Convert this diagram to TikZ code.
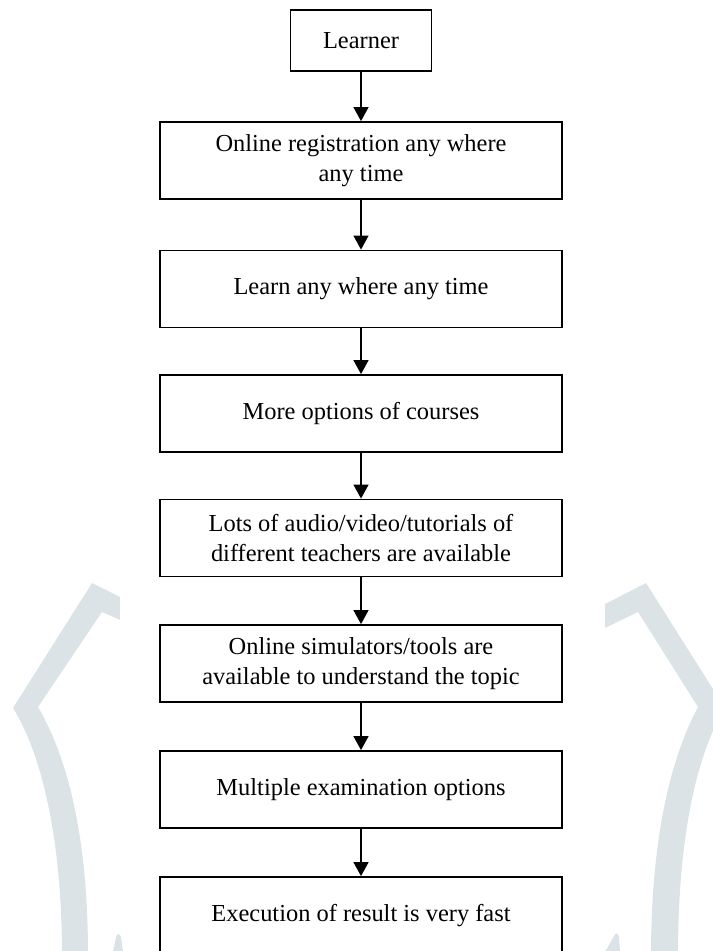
\documentclass[tikz,border=0pt]{standalone}
\usepackage{fontspec}
\setmainfont{Liberation Serif}
\usepackage{tikz}
\usetikzlibrary{arrows.meta}
\definecolor{wmgray}{RGB}{220,227,231}
\tikzset{box/.style = {rectangle, draw=black, line width=1pt, minimum width=8.04cm, minimum height=1.54cm, inner sep=0pt, align=center, font=\fontsize{13.9}{17}\selectfont},
         flow/.style = {line width=1pt, -{Triangle[length=8pt,width=8.5pt]}}}

\begin{document}
\begin{tikzpicture}
        \useasboundingbox (0,0) rectangle (14.26,19.02);

        \fill [wmgray] (3.00,6.78) -- (1.84,7.36) -- (0.26,4.86) .. controls (0.90,3.82) and (1.24,2.02) .. (1.24,-0.08)
              -- (1.76,-0.08) .. controls (1.76,2.02) and (1.44,3.72) .. (0.76,4.88) -- (2.04,6.78) -- (3.00,6.36) -- cycle;
        \fill [wmgray] (11.60,6.68) -- (12.92,7.36) -- (14.50,4.86) .. controls (13.86,3.82) and (13.56,2.02) .. (13.56,-0.08)
              -- (13.02,-0.08) .. controls (13.02,2.02) and (13.34,3.72) .. (13.96,4.88) -- (12.76,6.78) -- (11.60,6.22) -- cycle;
        \fill [white] (2.40,0) rectangle (12.10,19.02);
        \fill [wmgray] (2.26,-0.02) -- (2.32,0.28) .. controls (2.34,0.36) and (2.38,0.36) .. (2.42,0.28) -- (2.46,-0.02) -- cycle;
        \fill [wmgray] (12.10,-0.02) -- (12.28,0.30) .. controls (12.32,0.38) and (12.36,0.36) .. (12.38,0.28) -- (12.40,-0.02) -- cycle;

        \node [box, minimum width=2.82cm, minimum height=1.22cm] (1) at (7.22,18.21) {Learner};
        \node [box] (2) at (7.22,15.81) {Online registration any where\\any time};
        \node [box] (3) at (7.22,13.24) {Learn any where any time};
        \node [box] (4) at (7.22,10.75) {More options of courses};
        \node [box] (5) at (7.22,8.26) {Lots of audio/video/tutorials of\\different teachers are available};
        \node [box] (6) at (7.22,5.75) {Online simulators/tools are\\available to understand the topic};
        \node [box] (7) at (7.22,3.23) {Multiple examination options};
        \node [box] (8) at (7.22,0.71) {Execution of result is very fast};

        \draw [flow] (1) -- (2);
        \draw [flow] (2) -- (3);
        \draw [flow] (3) -- (4);
        \draw [flow] (4) -- (5);
        \draw [flow] (5) -- (6);
        \draw [flow] (6) -- (7);
        \draw [flow] (7) -- (8);
    \end{tikzpicture}
\end{document}
